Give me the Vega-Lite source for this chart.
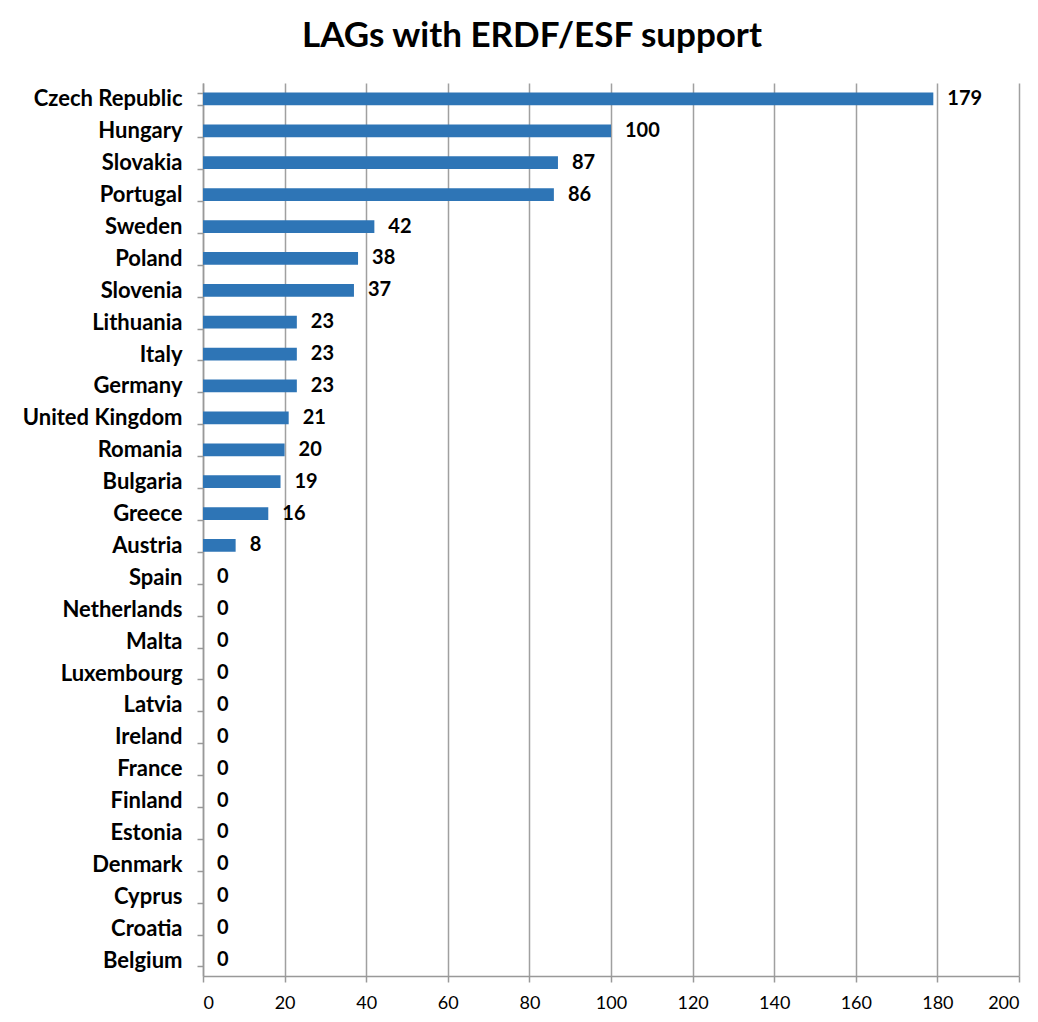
{
  "$schema": "https://vega.github.io/schema/vega-lite/v6.json",
  "autosize": "none",
  "width": 816,
  "height": 893,
  "padding": {"left": 203, "top": 83, "right": 19, "bottom": 46},
  "background": "white",
  "title": {
    "text": "LAGs with ERDF/ESF support",
    "font": "Lato",
    "fontSize": 35,
    "fontWeight": "bold",
    "color": "#000000",
    "anchor": "middle",
    "dx": -79,
    "offset": 18
  },
  "data": {
    "values": [
      {"country": "Czech Republic", "lags": 179},
      {"country": "Hungary", "lags": 100},
      {"country": "Slovakia", "lags": 87},
      {"country": "Portugal", "lags": 86},
      {"country": "Sweden", "lags": 42},
      {"country": "Poland", "lags": 38},
      {"country": "Slovenia", "lags": 37},
      {"country": "Lithuania", "lags": 23},
      {"country": "Italy", "lags": 23},
      {"country": "Germany", "lags": 23},
      {"country": "United Kingdom", "lags": 21},
      {"country": "Romania", "lags": 20},
      {"country": "Bulgaria", "lags": 19},
      {"country": "Greece", "lags": 16},
      {"country": "Austria", "lags": 8},
      {"country": "Spain", "lags": 0},
      {"country": "Netherlands", "lags": 0},
      {"country": "Malta", "lags": 0},
      {"country": "Luxembourg", "lags": 0},
      {"country": "Latvia", "lags": 0},
      {"country": "Ireland", "lags": 0},
      {"country": "France", "lags": 0},
      {"country": "Finland", "lags": 0},
      {"country": "Estonia", "lags": 0},
      {"country": "Denmark", "lags": 0},
      {"country": "Cyprus", "lags": 0},
      {"country": "Croatia", "lags": 0},
      {"country": "Belgium", "lags": 0}
    ]
  },
  "encoding": {
    "y": {
      "field": "country",
      "type": "nominal",
      "sort": null,
      "scale": {"paddingInner": 0.6, "paddingOuter": 0.3},
      "axis": {
        "title": null,
        "labelFont": "Lato",
        "labelFontSize": 22,
        "labelFontWeight": "bold",
        "labelColor": "#000000",
        "labelPadding": 15,
        "tickBand": "extent",
        "tickSize": 6,
        "tickColor": "#999999",
        "tickWidth": 1.5,
        "domainColor": "#999999",
        "domainWidth": 1.5,
        "grid": false
      }
    },
    "x": {
      "field": "lags",
      "type": "quantitative",
      "scale": {"domain": [0, 200], "nice": false},
      "axis": {
        "title": null,
        "values": [0, 20, 40, 60, 80, 100, 120, 140, 160, 180, 200],
        "labelFont": "Lato",
        "labelFontSize": 18,
        "labelColor": "#000000",
        "labelPadding": 12,
        "tickSize": 6,
        "tickColor": "#999999",
        "tickWidth": 1.5,
        "domainColor": "#999999",
        "domainWidth": 1.5,
        "grid": true,
        "gridColor": "#A0A0A0",
        "gridWidth": 1.5
      }
    }
  },
  "layer": [
    {"mark": {"type": "bar", "color": "#2E75B6"}},
    {
      "mark": {
        "type": "text",
        "align": "left",
        "dx": 14,
        "font": "Lato",
        "fontSize": 20,
        "fontWeight": "bold",
        "color": "#000000"
      },
      "encoding": {"text": {"field": "lags", "type": "quantitative"}}
    }
  ],
  "config": {"view": {"stroke": null}}
}
